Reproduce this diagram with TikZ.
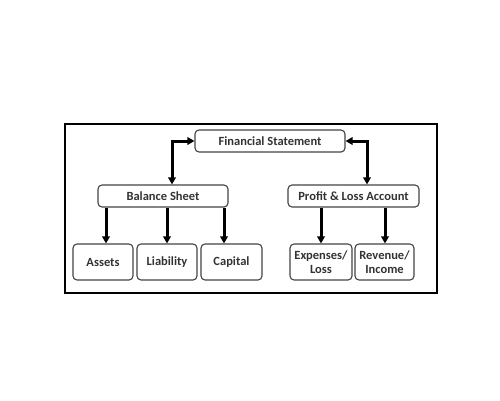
\documentclass[tikz,border=0pt]{standalone}
\usepackage{fontspec}
\setmainfont{Carlito}
\usetikzlibrary{arrows.meta}
\definecolor{txt}{HTML}{333333}
\definecolor{bd}{HTML}{444444}
\tikzset{
  box/.style={draw=bd, line width=1.1pt, rounded corners=4pt, fill=white, inner sep=0pt, text=txt, font=\bfseries\fontsize{12.5}{14}\selectfont, align=center},
  conn/.style={line width=3pt, black, -{Triangle[length=7pt,width=7.5pt]}},
  conn2/.style={line width=3pt, black, {Triangle[length=7pt,width=7.5pt]}-{Triangle[length=7pt,width=7.5pt]}}
}
\begin{document}
\begin{tikzpicture}[x=1pt,y=-1pt]
\useasboundingbox (0,0) rectangle (500,400);
\fill[white] (0,0) rectangle (500,400);
\draw[line width=2pt, black] (65,124) rectangle (437,293);
% boxes
\node[box, minimum width=150pt, minimum height=22pt] (fs) at (270,141) {Financial Statement};
\node[box, minimum width=130pt, minimum height=22pt] (bs) at (163,196) {Balance Sheet};
\node[box, minimum width=131pt, minimum height=22pt] (pl) at (353.5,196) {Profit \& Loss Account};
\node[box, minimum width=60pt, minimum height=36pt] (as) at (103,262) {Assets};
\node[box, minimum width=60pt, minimum height=36pt] (li) at (167,262) {Liability};
\node[box, minimum width=61pt, minimum height=36pt] (ca) at (231.5,262) {Capital};
\node[box, minimum width=62pt, minimum height=36pt] (ex) at (321,262) {Expenses/\\Loss};
\node[box, minimum width=59pt, minimum height=36pt] (re) at (384.5,262) {Revenue/\\Income};
% connectors
\draw[conn2] (fs.west) -- (172,141) -- (bs.north -| 172,0);
\draw[conn2] (fs.east) -- (367,141) -- (pl.north -| 367,0);
\draw[conn] (bs.south -| 106,0) -- (as.north -| 106,0);
\draw[conn] (bs.south -| 167,0) -- (li.north -| 167,0);
\draw[conn] (bs.south -| 224,0) -- (ca.north -| 224,0);
\draw[conn] (pl.south -| 321,0) -- (ex.north -| 321,0);
\draw[conn] (pl.south -| 385,0) -- (re.north -| 385,0);
\end{tikzpicture}
\end{document}
